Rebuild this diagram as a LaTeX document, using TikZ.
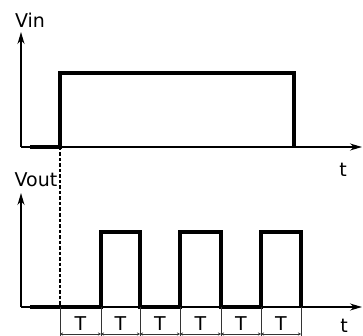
\documentclass[tikz,border=0pt]{standalone}
\usepackage{fontspec}
\setmainfont{DejaVu Sans}
\usetikzlibrary{arrows.meta,positioning,calc}
\tikzstyle{axis} = [line width=1.4pt,-{Stealth[length=12pt,width=7pt]}]
\tikzstyle{wave} = [line width=3.6pt,line join=miter]
\tikzstyle{txt} = [inner sep=0pt,anchor=base,font=\fontsize{19}{22}\selectfont]
\tikzstyle{tick} = [line width=0.6pt,black!80]
\tikzstyle{dim} = [line width=0.5pt,black!80,{Stealth[length=3pt,width=3pt]}-{Stealth[length=3pt,width=3pt]}]

\begin{document}
\begin{tikzpicture}[x=1pt,y=-1pt]
	\useasboundingbox (0,0) rectangle (363,336);
%--------------------start object code --------------------
	%Input axes
	\coordinate (inO) at (21,147);
	\coordinate (inY) at (21,32);
	\coordinate (inX) at (362,147);
	\draw[axis] (inO) -- (inY);
	\draw[axis] (inO) -- (inX);
	\node[txt] (vin) at (30,28) {Vin};
	\node[txt] (tin) at (343,177) {t};
	
	%Input step
	\coordinate (inA) at (30,147);
	\coordinate (inB) at (60,147);
	\coordinate (inC) at (294,147);
	\draw[wave] (inA) -- (inB) -- (60,73) -- (294,73) -- (inC);
	
	%Output axes
	\coordinate (outO) at (21,307);
	\coordinate (outY) at (21,193);
	\coordinate (outX) at (362,307);
	\draw[axis] (outO) -- (outY);
	\draw[axis] (outO) -- (outX);
	\node[txt] (vout) at (36,187) {Vout};
	\node[txt] (tout) at (344,332) {t};
	
	%Output pulses
	\coordinate (outA) at (30,307);
	\draw[wave] (outA) -- (101,307) -- (101,232) -- (140,232) -- (140,307)
		-- (180,307) -- (180,232) -- (221,232) -- (221,307)
		-- (261,307) -- (261,232) -- (301,232) -- (301,307);
	
	%Start marker
	\coordinate (outB) at (60,307);
	\draw[line width=1.1pt,dash pattern=on 3.5pt off 2pt] (inB) -- (outB);
	
	%Period marks
	\foreach \a/\b [count=\i] in {60/101,101/140,140/180,180/221,221/261,261/301}{
		\coordinate (p\i) at (\a,307);
		\coordinate (q\i) at (\b,307);
		\draw[tick] (p\i) -- ++(0,29);
		\draw[tick] (q\i) -- ++(0,29);
		\draw[dim] ($(p\i)+(0,27)$) -- ($(q\i)+(0,27)$);
		\node[txt] (T\i) at ($(p\i)!0.5!(q\i)+(0,23)$) {T};
	}
%-------------------------end object code-----------------------
\end{tikzpicture}
\end{document}
